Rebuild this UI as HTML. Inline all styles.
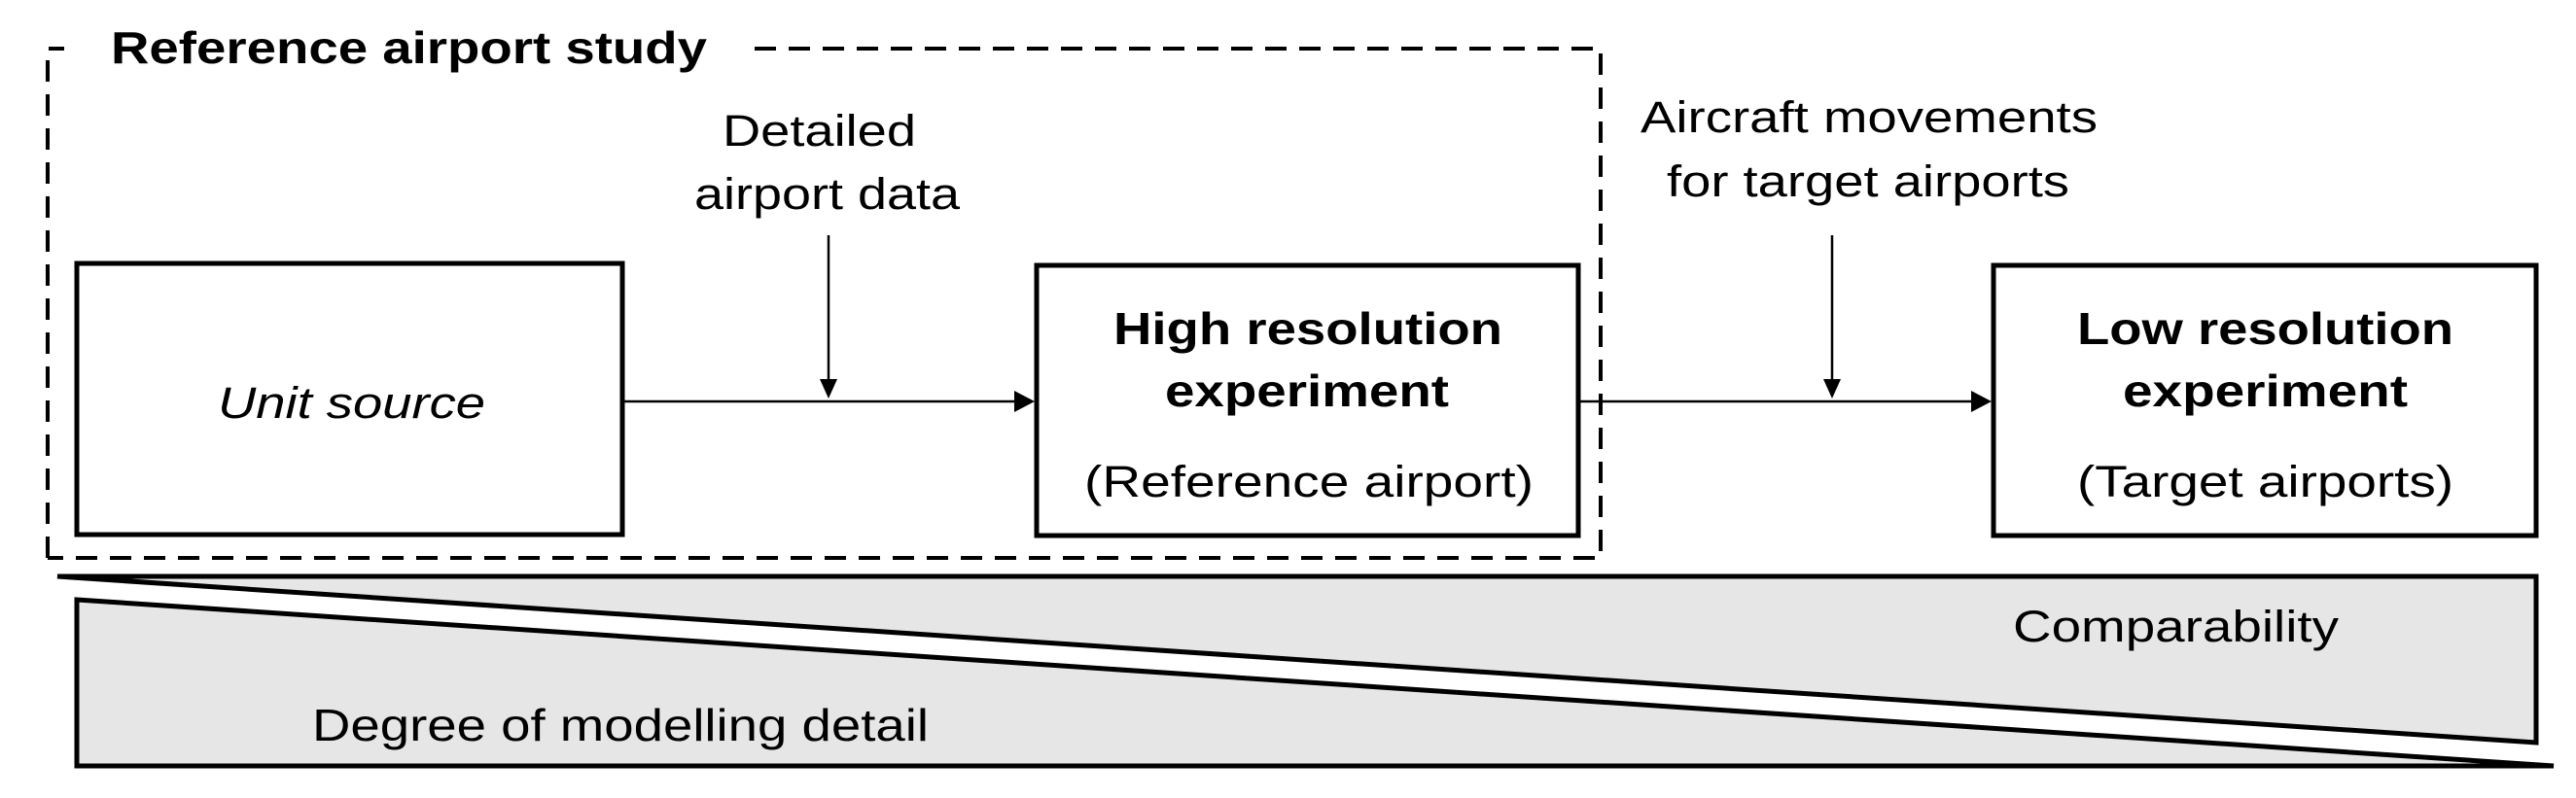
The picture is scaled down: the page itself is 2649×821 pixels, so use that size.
<!DOCTYPE html>
<html><head><meta charset="utf-8"><style>
html,body{margin:0;padding:0;background:#fff;}
svg{display:block;}
text{font-family:"Liberation Sans",Arial,sans-serif;fill:#000;}
</style></head><body>
<svg width="2649" height="821" viewBox="0 0 2649 821" xmlns="http://www.w3.org/2000/svg">
<defs>
<marker id="ah" markerWidth="10" markerHeight="10" refX="10" refY="5" orient="auto" markerUnits="userSpaceOnUse" viewBox="0 0 10 10">
</marker>
</defs>
<!-- dashed group -->
<g stroke="#000" stroke-width="4" fill="none" stroke-dasharray="22 13">
<path d="M49 574 L49 50 L66 50"/>
<path d="M776 50 L1646 50 L1646 574 L49 574"/>
</g>
<text x="114" y="65" font-size="46" font-weight="bold" textLength="613" lengthAdjust="spacingAndGlyphs">Reference airport study</text>

<!-- boxes -->
<g stroke="#000" stroke-width="5" fill="#fff">
<rect x="79" y="271" width="561" height="279"/>
<rect x="1066" y="273" width="557" height="278"/>
<rect x="2050" y="273" width="558" height="278"/>
</g>

<!-- arrows -->
<g stroke="#000" stroke-width="2.5">
<line x1="640" y1="413" x2="1046" y2="413"/>
<line x1="852" y1="242" x2="852" y2="392"/>
<line x1="1623" y1="413" x2="2030" y2="413"/>
<line x1="1884" y1="242" x2="1884" y2="392"/>
</g>
<g fill="#000">
<polygon points="1043,402 1064,413 1043,424"/>
<polygon points="843,390 861,390 852,410"/>
<polygon points="2027,402 2048,413 2027,424"/>
<polygon points="1875,390 1893,390 1884,410"/>
</g>

<!-- labels -->
<text x="743" y="150" font-size="45" textLength="199" lengthAdjust="spacingAndGlyphs">Detailed</text>
<text x="714" y="215" font-size="45" textLength="273" lengthAdjust="spacingAndGlyphs">airport data</text>
<text x="224" y="430" font-size="45" font-style="italic" textLength="275" lengthAdjust="spacingAndGlyphs">Unit source</text>
<text x="1145" y="354" font-size="46" font-weight="bold" textLength="400" lengthAdjust="spacingAndGlyphs">High resolution</text>
<text x="1198" y="418" font-size="46" font-weight="bold" textLength="292" lengthAdjust="spacingAndGlyphs">experiment</text>
<text x="1115" y="511" font-size="45" textLength="462" lengthAdjust="spacingAndGlyphs">(Reference airport)</text>
<text x="2136" y="354" font-size="46" font-weight="bold" textLength="387" lengthAdjust="spacingAndGlyphs">Low resolution</text>
<text x="2183" y="418" font-size="46" font-weight="bold" textLength="293" lengthAdjust="spacingAndGlyphs">experiment</text>
<text x="2136" y="511" font-size="45" textLength="387" lengthAdjust="spacingAndGlyphs">(Target airports)</text>
<text x="1687" y="136" font-size="45" textLength="470" lengthAdjust="spacingAndGlyphs">Aircraft movements</text>
<text x="1714" y="202" font-size="45" textLength="414" lengthAdjust="spacingAndGlyphs">for target airports</text>

<!-- bottom wedges -->
<g stroke="#000" stroke-width="5" fill="#e6e6e6" stroke-linejoin="miter">
<polygon points="59,593 2608,593 2608,764"/>
<polygon points="79,617 2626,788 79,788"/>
</g>
<text x="2070" y="660" font-size="45" textLength="335" lengthAdjust="spacingAndGlyphs">Comparability</text>
<text x="321" y="762" font-size="46" textLength="634" lengthAdjust="spacingAndGlyphs">Degree of modelling detail</text>
</svg>
</body></html>
